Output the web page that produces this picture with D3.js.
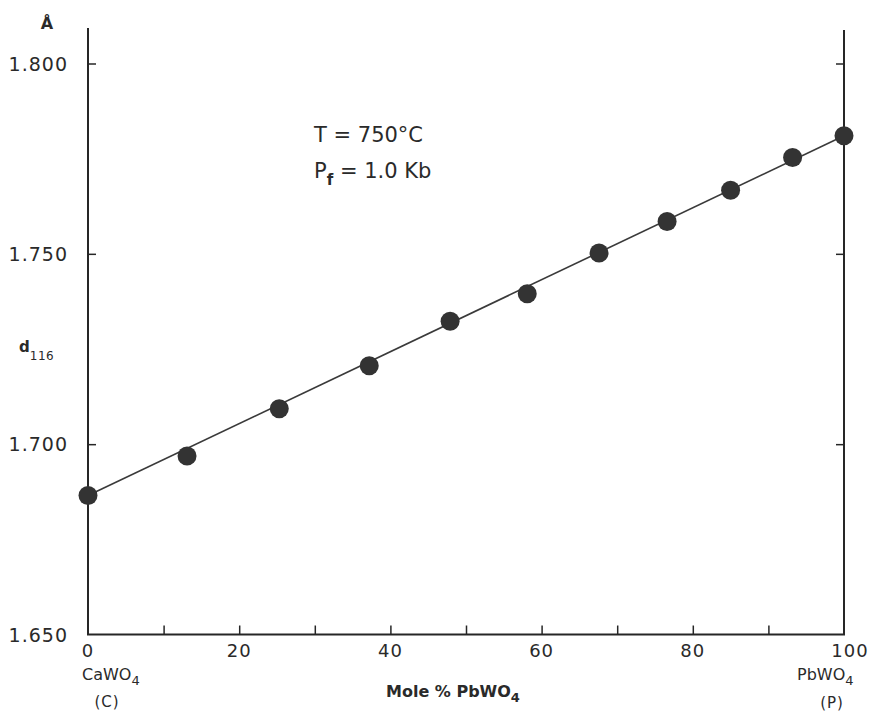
<!DOCTYPE html>
<html>
<head>
<meta charset="utf-8">
<script src="https://cdn.jsdelivr.net/npm/d3@7"></script>
<style>
  html, body { margin: 0; padding: 0; background: #fff; }
  svg { display: block; }
  text { font-family: "DejaVu Sans", sans-serif; fill: #2a2a2a; }
</style>
</head>
<body>
<svg id="chart" width="870" height="712"></svg>
<script>
// ---- data ----
const molePct = [0, 13.1, 25.3, 37.2, 47.9, 58.1, 67.6, 76.6, 85.0, 93.2, 100];
const d116 = [1.6865, 1.6969, 1.7093, 1.7206, 1.7323, 1.7395, 1.7502, 1.7585, 1.7667, 1.7753, 1.7810];
const fitX = [0, 100];
const fitY = [1.6865, 1.7810];
const xTicks = [0, 10, 20, 30, 40, 50, 60, 70, 80, 90, 100];
const xTickLabels = ["0", "", "20", "", "40", "", "60", "", "80", "", "100"];
const yTicks = [1.650, 1.700, 1.750, 1.800];
const yTickLabels = ["1.650", "1.700", "1.750", "1.800"];

const svg = d3.select("#chart");
const x = d3.scaleLinear().domain([0, 100]).range([88, 844]);
const y = d3.scaleLinear().domain([1.65, 1.80]).range([634.5, 63.5]);
const ink = "#262626";

// axes frame (left, bottom, right)
svg.append("line").attr("x1", x(0)).attr("x2", x(0)).attr("y1", y(1.65)).attr("y2", 28)
  .attr("stroke", ink).attr("stroke-width", 2);
svg.append("line").attr("x1", x(100)).attr("x2", x(100)).attr("y1", y(1.65)).attr("y2", 30)
  .attr("stroke", ink).attr("stroke-width", 2);
svg.append("line").attr("x1", x(0) - 1).attr("x2", x(100) + 1).attr("y1", y(1.65)).attr("y2", y(1.65))
  .attr("stroke", ink).attr("stroke-width", 2);

// x ticks (inward) via d3 axis
const xAxis = d3.axisTop(x).tickValues(xTicks.slice(1, -1)).tickSize(9).tickFormat("");
const gx = svg.append("g").attr("transform", `translate(0,${y(1.65)})`).call(xAxis);
gx.select(".domain").remove();
gx.selectAll(".tick line").attr("stroke", ink).attr("stroke-width", 1.5);

// y ticks inward on left and right
const yAxisL = d3.axisRight(y).tickValues(yTicks.slice(1)).tickSize(8).tickFormat("");
const gyl = svg.append("g").attr("transform", `translate(${x(0)},0)`).call(yAxisL);
gyl.select(".domain").remove();
gyl.selectAll(".tick line").attr("stroke", ink).attr("stroke-width", 1.5);
const yAxisR = d3.axisLeft(y).tickValues(yTicks.slice(1)).tickSize(8).tickFormat("");
const gyr = svg.append("g").attr("transform", `translate(${x(100)},0)`).call(yAxisR);
gyr.select(".domain").remove();
gyr.selectAll(".tick line").attr("stroke", ink).attr("stroke-width", 1.5);

// y tick labels
svg.selectAll(".ylab").data(yTicks).enter().append("text")
  .attr("class", "ylab")
  .attr("x", 68).attr("y", d => y(d) + 7)
  .attr("text-anchor", "end")
  .attr("font-size", 19).attr("letter-spacing", 1)
  .text((d, i) => yTickLabels[i]);

// x tick labels
svg.selectAll(".xlab").data(xTicks.filter((d, i) => xTickLabels[i] !== "")).enter().append("text")
  .attr("class", "xlab")
  .attr("x", d => x(d) + (d === 100 ? 6 : 0)).attr("y", 657)
  .attr("text-anchor", "middle")
  .attr("font-size", 18).attr("letter-spacing", 1)
  .text(d => xTickLabels[xTicks.indexOf(d)]);

// fit line
svg.append("line")
  .attr("x1", x(fitX[0])).attr("y1", y(fitY[0]))
  .attr("x2", x(fitX[1])).attr("y2", y(fitY[1]))
  .attr("stroke", "#3a3a3a").attr("stroke-width", 1.6);

// points
svg.selectAll(".pt").data(molePct).enter().append("circle")
  .attr("class", "pt")
  .attr("cx", d => x(d)).attr("cy", (d, i) => y(d116[i]))
  .attr("r", 9.5).attr("fill", "#333");

// Angstrom unit
svg.append("text").attr("x", 47).attr("y", 29).attr("text-anchor", "middle")
  .attr("font-size", 16).attr("font-weight", "bold").text("Å");

// y label d116
const yl = svg.append("text").attr("x", 19).attr("y", 352).attr("font-size", 15).attr("font-weight", "bold");
yl.append("tspan").text("d");
yl.append("tspan").attr("dy", 8).attr("font-size", 12).attr("font-weight", "normal").attr("letter-spacing", 0.5).text("116");

// x axis end labels
const cl = svg.append("text").attr("x", 82).attr("y", 680).attr("font-size", 16);
cl.append("tspan").text("CaWO");
cl.append("tspan").attr("dy", 5).attr("font-size", 13).text("4");
svg.append("text").attr("x", 107).attr("y", 707).attr("text-anchor", "middle").attr("font-size", 15).attr("letter-spacing", 1).text("(C)");
const pl = svg.append("text").attr("x", 797).attr("y", 680).attr("font-size", 16);
pl.append("tspan").text("PbWO");
pl.append("tspan").attr("dy", 5).attr("font-size", 13).text("4");
svg.append("text").attr("x", 832).attr("y", 708).attr("text-anchor", "middle").attr("font-size", 15).attr("letter-spacing", 1).text("(P)");

// x axis title
const xt = svg.append("text").attr("x", 386).attr("y", 697).attr("font-size", 16).attr("font-weight", "bold");
xt.append("tspan").text("Mole % PbWO");
xt.append("tspan").attr("dy", 5).attr("font-size", 13).text("4");

// annotation
svg.append("text").attr("x", 314).attr("y", 142).attr("font-size", 21).text("T = 750°C");
const pf = svg.append("text").attr("x", 314).attr("y", 178).attr("font-size", 21);
pf.append("tspan").text("P");
pf.append("tspan").attr("dy", 7).attr("font-size", 15).attr("font-weight", "bold").text("f");
pf.append("tspan").attr("dy", -7).text(" = 1.0 Kb");
</script>
</body>
</html>
